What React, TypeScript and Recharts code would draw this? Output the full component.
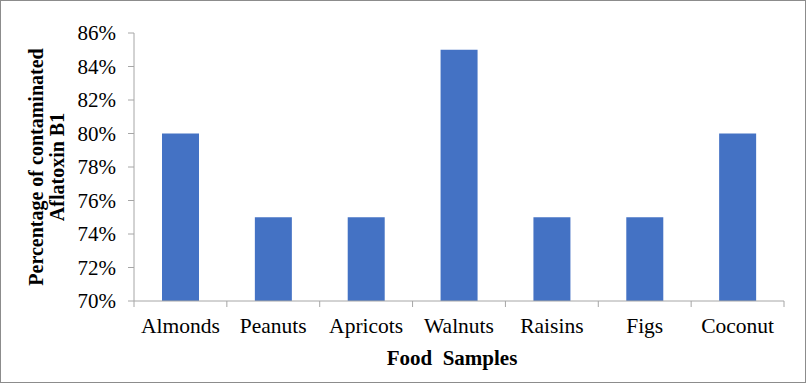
import { BarChart, Bar, XAxis, YAxis, Label } from 'recharts';

const categories = ['Almonds', 'Peanuts', 'Apricots', 'Walnuts', 'Raisins', 'Figs', 'Coconut'];
const contamination = [0.8, 0.75, 0.75, 0.85, 0.75, 0.75, 0.8];
const yTicks = [0.7, 0.72, 0.74, 0.76, 0.78, 0.8, 0.82, 0.84, 0.86];

const data = categories.map((name, i) => ({ name, value: contamination[i] }));

const FONT = '"Liberation Serif", "Times New Roman", serif';
const AXIS = '#A6A6A6';

function CategoryTick(props: any) {
  const { x, y, payload, width, visibleTicksCount, index } = props;
  const band = width / visibleTicksCount;
  const axisY = y - 8;
  return (
    <g>
      <line x1={x - band / 2} x2={x - band / 2} y1={axisY} y2={axisY + 6} stroke={AXIS} />
      {index === visibleTicksCount - 1 && (
        <line x1={x + band / 2} x2={x + band / 2} y1={axisY} y2={axisY + 6} stroke={AXIS} />
      )}
      <text x={x} y={y} dy={24} textAnchor="middle" fill="#000" fontSize={21.5} fontFamily={FONT}>
        {payload.value}
      </text>
    </g>
  );
}

function YTitle(props: any) {
  const { viewBox } = props;
  const cy = viewBox.y + viewBox.height / 2;
  const x1 = viewBox.x - 27;
  const x2 = viewBox.x - 6;
  return (
    <g fontFamily={FONT} fontWeight="bold" fontSize={20} fill="#000">
      <text x={x1} y={cy} textAnchor="middle" transform={`rotate(-90 ${x1} ${cy})`}>
        Percentage of contaminated
      </text>
      <text x={x2} y={cy} textAnchor="middle" transform={`rotate(-90 ${x2} ${cy})`}>
        Aflatoxin B1
      </text>
    </g>
  );
}

function XTitle(props: any) {
  const { viewBox } = props;
  const cx = viewBox.x + viewBox.width / 2 - 7;
  return (
    <text x={cx} y={viewBox.y + 64} textAnchor="middle" fontFamily={FONT} fontWeight="bold" fontSize={21} fill="#000" style={{ whiteSpace: 'pre' }}>
      {'Food  Samples'}
    </text>
  );
}

export default function App() {
  return (
    <div style={{ position: 'fixed', left: 0, top: 0, width: 806, height: 383, background: '#fff' }}>
      <BarChart
        width={806}
        height={383}
        data={data}
        margin={{ top: 33, right: 22, bottom: 12, left: 70 }}
        barCategoryGap="60%"
      >
        <XAxis
          dataKey="name"
          height={70}
          stroke={AXIS}
          tickLine={false}
          tick={<CategoryTick />}
          interval={0}
        >
          <Label content={<XTitle />} />
        </XAxis>
        <YAxis
          width={64}
          domain={[0.7, 0.86]}
          ticks={yTicks}
          allowDataOverflow
          stroke={AXIS}
          tickSize={6}
          tickMargin={12}
          tick={{ fill: '#000', fontSize: 21, fontFamily: FONT }}
          tickFormatter={(v: number) => `${Math.round(v * 100)}%`}
        >
          <Label content={<YTitle />} />
        </YAxis>
        <Bar dataKey="value" fill="#4472C4" barSize={37} isAnimationActive={false} />
      </BarChart>
      <div
        style={{
          position: 'absolute',
          left: 0,
          top: 0,
          width: 806,
          height: 383,
          boxSizing: 'border-box',
          border: '1px solid #8C8C8C',
          pointerEvents: 'none',
        }}
      />
    </div>
  );
}
